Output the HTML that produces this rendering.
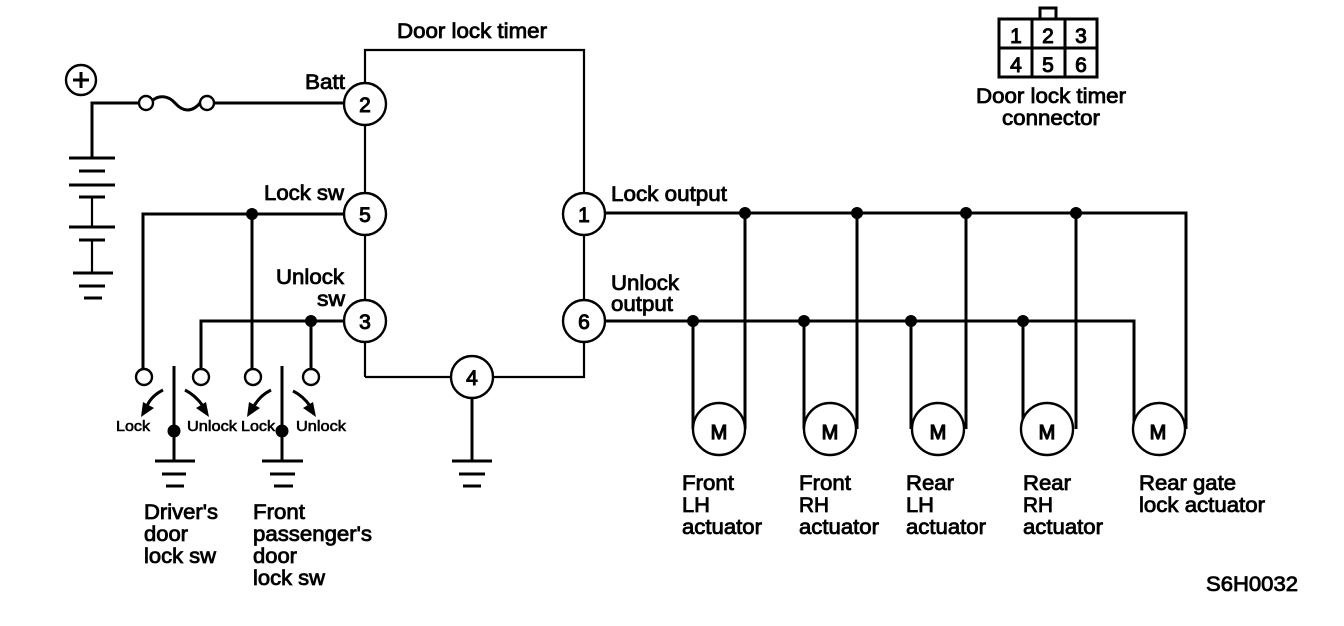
<!DOCTYPE html>
<html><head><meta charset="utf-8"><style>
html,body{margin:0;padding:0;background:#fff}
svg{display:block}
text{font-family:"Liberation Sans",sans-serif;font-size:21px;fill:#000;stroke:#000;stroke-width:.8}
.s{font-size:15px;stroke-width:.6}
.n{text-anchor:middle;font-size:21px;stroke-width:1}
.m{text-anchor:middle;font-size:20px;stroke-width:1.2}
.w{fill:none;stroke:#000;stroke-width:3}
.t{fill:none;stroke:#000;stroke-width:2.2}
.c{fill:#fff;stroke:#000;stroke-width:2.4}
.d{fill:#000}
</style></head><body>
<svg width="1344" height="626" viewBox="0 0 1344 626" xmlns="http://www.w3.org/2000/svg">
<rect width="1344" height="626" fill="#fff"/>
<path class="t" d="M365 377V50H584V377H365"/>
<path class="w" d="M92 158V103H344"/>
<path class="w" d="M69 158H115M69 185H115M79 171H105M79 197H105M69 227H115M79 240H105M73 273H113M79 286H105M84 298H102"/>
<path class="t" d="M92 197V227M92 240V273"/>
<circle class="c" cx="81" cy="80" r="15"/>
<path class="w" d="M73 80H89M81 72V88"/>
<rect x="146" y="96" width="61" height="14" fill="#fff"/>
<path d="M152 101C158 95 168 95 175 103C183 112 192 113 201 102" fill="none" stroke="#000" stroke-width="3"/>
<circle class="c" cx="146" cy="103" r="7"/><circle class="c" cx="207" cy="103" r="7"/>
<path class="w" d="M344 214H143V370M252 214V370M344 321H201V370M311 321V370"/>
<circle class="d" cx="252" cy="214" r="6"/><circle class="d" cx="311" cy="321" r="6"/>
<circle class="c" cx="144" cy="377" r="8"/><circle class="c" cx="201" cy="377" r="8"/>
<circle class="c" cx="253" cy="377" r="8"/><circle class="c" cx="311" cy="377" r="8"/>
<path class="w" d="M174 366V460M282 366V460"/>
<circle class="d" cx="174" cy="431" r="6.5"/><circle class="d" cx="282" cy="431" r="6.5"/>
<path class="w" d="M155 461H195M162 474H186M166 486H184M262 461H303M270 474H295M274 486H293"/>
<path class="w" d="M163 390C155 394 150 399 147 406M185 390C193 394 198 399 203 406M271 390C263 394 258 399 254 406M293 391C301 395 306 400 310 406"/>
<path class="d" d="M141 417L143 402L154 408ZM209 417L196 408L206 402ZM247 417L249 402L260 408ZM316 417L303 408L313 402Z"/>
<path class="w" d="M472 398V461"/>
<path class="w" d="M452 461H492M459 474H485M463 486H481"/>
<path class="w" d="M605 213H1186V429M745 213V429M857 213V429M966 213V429M1076 213V429"/>
<path class="w" d="M605 321H1134V429M693 321V429M804 321V429M911 321V429M1023 321V429"/>
<g class="d"><circle cx="745" cy="213" r="6"/><circle cx="857" cy="213" r="6"/><circle cx="966" cy="213" r="6"/><circle cx="1076" cy="213" r="6"/><circle cx="693" cy="321" r="6"/><circle cx="804" cy="321" r="6"/><circle cx="911" cy="321" r="6"/><circle cx="1023" cy="321" r="6"/></g>
<circle class="c" cx="719" cy="429" r="26"/><circle class="c" cx="830" cy="429" r="26"/><circle class="c" cx="938" cy="429" r="26"/><circle class="c" cx="1047" cy="429" r="26"/><circle class="c" cx="1159" cy="429" r="26"/>
<circle class="c" cx="365" cy="104" r="21"/><circle class="c" cx="365" cy="214" r="21"/><circle class="c" cx="365" cy="321" r="21"/><circle class="c" cx="584" cy="214" r="21"/><circle class="c" cx="584" cy="321" r="21"/><circle class="c" cx="472" cy="377" r="21"/>
<text class="n" x="365" y="112">2</text><text class="n" x="365" y="222">5</text><text class="n" x="365" y="329">3</text><text class="n" x="584" y="222">1</text><text class="n" x="584" y="329">6</text><text class="n" x="472" y="385">4</text>
<text class="m" x="719" y="439">M</text><text class="m" x="830" y="439">M</text><text class="m" x="938" y="439">M</text><text class="m" x="1047" y="439">M</text><text class="m" x="1158" y="439">M</text>
<rect x="999" y="19" width="98" height="58" fill="none" stroke="#000" stroke-width="3"/>
<path class="w" d="M999 48H1097M1032 19V77M1065 19V77M1040 18V8H1056V18"/>
<text class="n" x="1016" y="43">1</text><text class="n" x="1048" y="43">2</text><text class="n" x="1081" y="43">3</text><text class="n" x="1016" y="72">4</text><text class="n" x="1048" y="72">5</text><text class="n" x="1081" y="72">6</text>
<g transform="translate(0,-1)">
<text x="397" y="39" textLength="150" lengthAdjust="spacingAndGlyphs">Door lock timer</text>
<text x="305" y="90" textLength="40" lengthAdjust="spacingAndGlyphs">Batt</text>
<text x="264" y="201" textLength="80" lengthAdjust="spacingAndGlyphs">Lock sw</text>
<text x="276" y="285" textLength="68" lengthAdjust="spacingAndGlyphs">Unlock</text>
<text x="317" y="307" textLength="28" lengthAdjust="spacingAndGlyphs">sw</text>
<text x="611" y="202" textLength="116" lengthAdjust="spacingAndGlyphs">Lock output</text>
<text x="611" y="291" textLength="68" lengthAdjust="spacingAndGlyphs">Unlock</text>
<text x="611" y="312" textLength="62" lengthAdjust="spacingAndGlyphs">output</text>
<text x="976" y="104" textLength="150" lengthAdjust="spacingAndGlyphs">Door lock timer</text>
<text x="1002" y="126" textLength="98" lengthAdjust="spacingAndGlyphs">connector</text>
<text class="s" x="116" y="432" textLength="34" lengthAdjust="spacingAndGlyphs">Lock</text>
<text class="s" x="187" y="432" textLength="50" lengthAdjust="spacingAndGlyphs">Unlock</text>
<text class="s" x="241" y="432" textLength="34" lengthAdjust="spacingAndGlyphs">Lock</text>
<text class="s" x="296" y="432" textLength="50" lengthAdjust="spacingAndGlyphs">Unlock</text>
<text x="144" y="520" textLength="74" lengthAdjust="spacingAndGlyphs">Driver's</text>
<text x="144" y="542" textLength="44" lengthAdjust="spacingAndGlyphs">door</text>
<text x="144" y="564" textLength="72" lengthAdjust="spacingAndGlyphs">lock sw</text>
<text x="253" y="520" textLength="52" lengthAdjust="spacingAndGlyphs">Front</text>
<text x="253" y="542" textLength="119" lengthAdjust="spacingAndGlyphs">passenger's</text>
<text x="253" y="564" textLength="44" lengthAdjust="spacingAndGlyphs">door</text>
<text x="253" y="586" textLength="72" lengthAdjust="spacingAndGlyphs">lock sw</text>
<text x="682" y="491" textLength="52" lengthAdjust="spacingAndGlyphs">Front</text>
<text x="682" y="513" textLength="28" lengthAdjust="spacingAndGlyphs">LH</text>
<text x="682" y="535" textLength="80" lengthAdjust="spacingAndGlyphs">actuator</text>
<text x="799" y="491" textLength="52" lengthAdjust="spacingAndGlyphs">Front</text>
<text x="799" y="513" textLength="30" lengthAdjust="spacingAndGlyphs">RH</text>
<text x="799" y="535" textLength="80" lengthAdjust="spacingAndGlyphs">actuator</text>
<text x="906" y="491" textLength="48" lengthAdjust="spacingAndGlyphs">Rear</text>
<text x="906" y="513" textLength="28" lengthAdjust="spacingAndGlyphs">LH</text>
<text x="906" y="535" textLength="80" lengthAdjust="spacingAndGlyphs">actuator</text>
<text x="1023" y="491" textLength="48" lengthAdjust="spacingAndGlyphs">Rear</text>
<text x="1023" y="513" textLength="30" lengthAdjust="spacingAndGlyphs">RH</text>
<text x="1023" y="535" textLength="80" lengthAdjust="spacingAndGlyphs">actuator</text>
<text x="1139" y="491" textLength="97" lengthAdjust="spacingAndGlyphs">Rear gate</text>
<text x="1139" y="513" textLength="126" lengthAdjust="spacingAndGlyphs">lock actuator</text>
<text x="1206" y="592" textLength="92" lengthAdjust="spacingAndGlyphs">S6H0032</text>
</g>
</svg>
</body></html>
